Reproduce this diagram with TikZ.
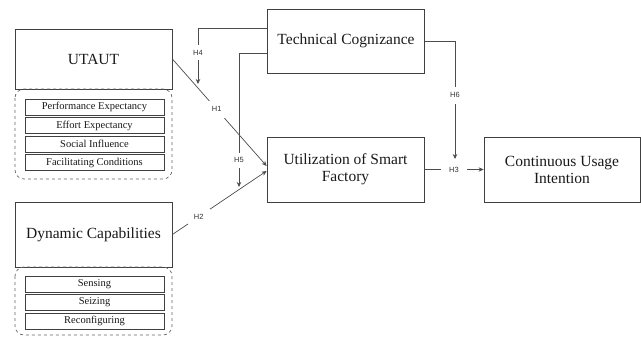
\documentclass[tikz,border=0pt]{standalone}
\usepackage{fontspec}
\setmainfont{Liberation Serif}
\newfontfamily\lblfont{Liberation Sans}
\usetikzlibrary{arrows.meta}
\begin{document}
\begin{tikzpicture}[x=1pt,y=-1pt,
  mainbox/.style={draw=black!75,line width=0.8pt,inner sep=2pt,align=center,font=\fontsize{15.5}{17}\selectfont,text=black!90},
  itembox/.style={draw=black!75,line width=0.7pt,inner sep=0pt,minimum width=139pt,minimum height=16pt,font=\fontsize{10.5}{12}\selectfont,text=black!90},
  groupbox/.style={draw=black!60,dashed,line width=0.7pt,rounded corners=9pt},
  conn/.style={draw=black!70,line width=0.7pt},
  arr/.style={conn,-{Stealth[length=5pt,width=4.5pt]}},
  lbl/.style={fill=white,inner sep=1pt,inner ysep=3pt,font=\lblfont\fontsize{7.5}{9}\selectfont,text=black!80}
]
\useasboundingbox (0,0) rectangle (641,337);

% UTAUT group
\node[mainbox,minimum width=157pt,minimum height=60pt] (utaut) at (93.5,59) {UTAUT};
\draw[groupbox] (15,89) rectangle (172,179);
\node[itembox] (pe) at (94.5,107) {Performance Expectancy};
\node[itembox] (ee) at (94.5,125.5) {Effort Expectancy};
\node[itembox] (si) at (94.5,144) {Social Influence};
\node[itembox] (fc) at (94.5,162.5) {Facilitating Conditions};

% Dynamic capabilities group
\node[mainbox,minimum width=157pt,minimum height=65pt] (dc) at (93.5,234.5) {Dynamic Capabilities};
\draw[groupbox] (15,267) rectangle (172,335);
\node[itembox] (se) at (94.5,284) {Sensing};
\node[itembox] (sz) at (94.5,302.5) {Seizing};
\node[itembox] (rc) at (94.5,321) {Reconfiguring};

% right side
\node[mainbox,minimum width=157pt,minimum height=64pt] (tc) at (346,41) {Technical Cognizance};
\node[mainbox,minimum width=157pt,minimum height=65pt] (util) at (345.5,169.5) {Utilization of Smart\\Factory};
\node[mainbox,minimum width=156pt,minimum height=65pt] (cui) at (562,169.5) {Continuous Usage\\Intention};

\coordinate (h4end) at (198,84);
\coordinate (h5end) at (239,187);
\coordinate (h6end) at (455,159);

% connectors
\draw[arr] (utaut.east) -- node[lbl,pos=0.47,inner xsep=5pt,inner ysep=6pt]{H1} ([yshift=3.5pt]util.west);
\draw[arr] (dc.east) -- node[lbl,pos=0.28,inner xsep=6pt,inner ysep=5pt]{H2} ([yshift=-1.5pt]util.west);
\draw[arr] (util.east) -- node[lbl,inner xsep=8pt]{H3} (cui.west);
\draw[arr] ([yshift=13pt]tc.west) -| node[lbl,pos=0.72,inner ysep=5pt]{H4} (h4end);
\draw[arr] ([yshift=-12pt]tc.west) -| node[lbl,pos=0.90,inner ysep=5pt]{H5} (h5end);
\draw[arr] (tc.east) -| node[lbl,pos=0.73,inner ysep=6pt]{H6} (h6end);
\end{tikzpicture}
\end{document}
